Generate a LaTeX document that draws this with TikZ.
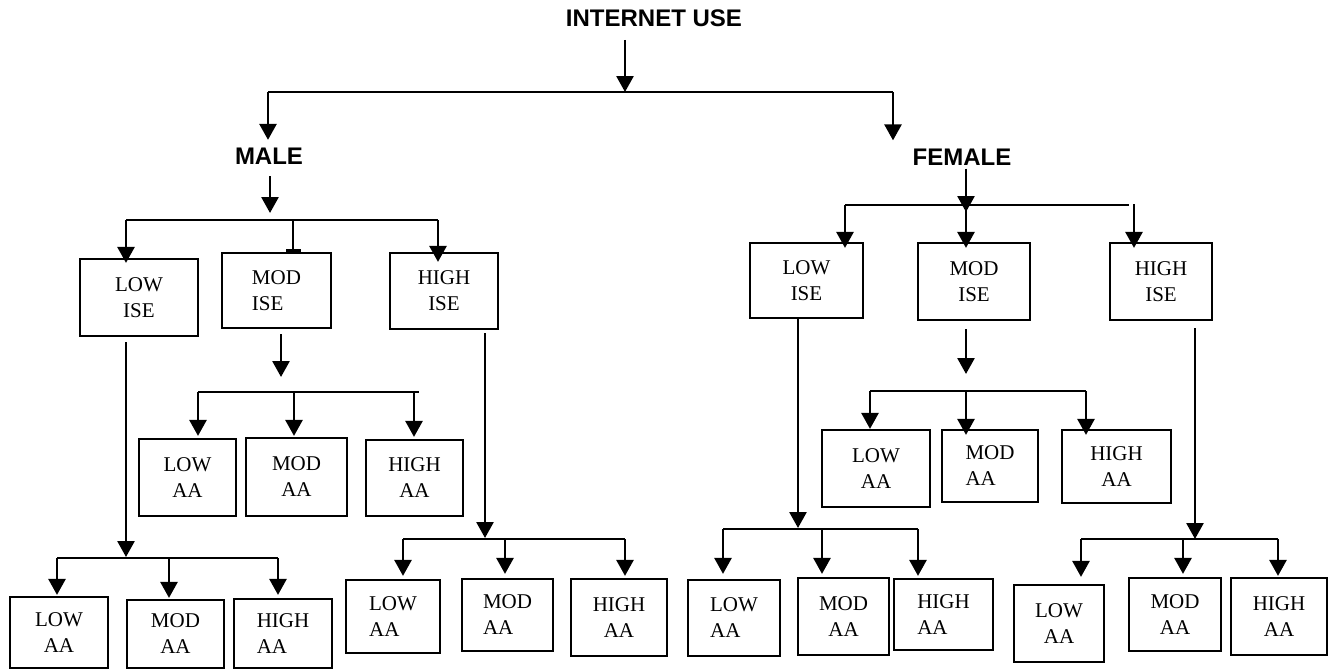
\documentclass[tikz,border=0pt]{standalone}
\usepackage{fontspec}
\setmainfont{Liberation Serif}
\setsansfont{Liberation Sans}
\usetikzlibrary{arrows.meta}
\newcommand\bxfont{\fontsize{10.5}{13}\selectfont}
\newcommand\hdfont{\fontsize{12}{14}\selectfont\sffamily\bfseries}
\begin{document}
\begin{tikzpicture}[x=0.5pt,y=-0.5pt,
  box/.style={draw, line width=1.1pt, inner sep=0pt, font=\bxfont, align=center},
  sz/.style 2 args={minimum width=#1*0.5pt, minimum height=#2*0.5pt},
  hdr/.style={font=\hdfont, inner sep=0pt},
  ln/.style={line width=1.35pt},
  arr/.style={line width=1.35pt, -{Triangle[length=8pt,width=8.5pt]}},
  tee/.style={line width=1.35pt, -{Bar[width=7.5pt,line width=1.35pt]}}]
\useasboundingbox (0,0) rectangle (1330,670);

% headers
\node[hdr] (iu) at (654,18) {INTERNET USE};
\node[hdr] (male) at (269,156.5) {MALE};
\node[hdr] (female) at (962,157) {FEMALE};

% male ISE
\node[box,sz={118}{77}] (mL) at (139,297.5) {LOW\\ISE};
\node[box,sz={109}{75},align=left] (mM) at (276.5,290.5) {MOD\\ISE};
\node[box,sz={108}{76}] (mH) at (444,291) {HIGH\\ISE};
% male MOD ISE -> AA
\node[box,sz={97}{77}] (mmL) at (187.5,477.5) {LOW\\AA};
\node[box,sz={101}{78}] (mmM) at (296.5,477) {MOD\\AA};
\node[box,sz={97}{76}] (mmH) at (414.5,478) {HIGH\\AA};
% male LOW ISE -> AA
\node[box,sz={98}{71}] (mlL) at (59,632.5) {LOW\\AA};
\node[box,sz={97}{68}] (mlM) at (175.5,634) {MOD\\AA};
\node[box,sz={98}{69},align=left] (mlH) at (283,633.5) {HIGH\\AA};
% male HIGH ISE -> AA
\node[box,sz={94}{73},align=left] (mhL) at (393,616.5) {LOW\\AA};
\node[box,sz={91}{72},align=left] (mhM) at (507.5,615) {MOD\\AA};
\node[box,sz={96}{77}] (mhH) at (619,617.5) {HIGH\\AA};

% female ISE
\node[box,sz={113}{75}] (fL) at (806.5,280.5) {LOW\\ISE};
\node[box,sz={112}{77}] (fM) at (974,281.5) {MOD\\ISE};
\node[box,sz={102}{77}] (fH) at (1161,281.5) {HIGH\\ISE};
% female MOD ISE -> AA
\node[box,sz={108}{77}] (fmL) at (876,468.5) {LOW\\AA};
\node[box,sz={96}{72},align=left] (fmM) at (990,466) {MOD\\AA};
\node[box,sz={109}{73}] (fmH) at (1116.5,466.5) {HIGH\\AA};
% female LOW ISE -> AA
\node[box,sz={92}{76},align=left] (flL) at (734,618) {LOW\\AA};
\node[box,sz={91}{77}] (flM) at (843.5,616.5) {MOD\\AA};
\node[box,sz={99}{71},align=left] (flH) at (943.5,614.5) {HIGH\\AA};
% female HIGH ISE -> AA
\node[box,sz={90}{77}] (fhL) at (1059,623.5) {LOW\\AA};
\node[box,sz={92}{73}] (fhM) at (1175,614.5) {MOD\\AA};
\node[box,sz={96}{77}] (fhH) at (1279,616.5) {HIGH\\AA};

% ---- top level
\coordinate (t0) at (625,92);
\coordinate (tL) at (268,92);
\coordinate (tR) at (893,92);
\draw[arr, shorten <=6.5pt] (iu.south -| t0) -- (t0);
\draw[ln] (tL) -- (tR);
\draw[arr, shorten >=4pt] (tL) -- (tL |- male.north);
\draw[arr, shorten >=4pt] (tR) -- (tR |- female.north);

% ---- male
\coordinate (ma) at (270,213);
\coordinate (mb1) at (126,220);
\coordinate (mb2) at (293,220);
\coordinate (mb3) at (438,220);
\draw[arr, shorten <=5.5pt] (male.south -| ma) -- (ma);
\draw[ln] (mb1) -- (mb3);
\draw[arr, shorten >=-2.5pt] (mb1) -- (mb1 |- mL.north);
\draw[tee] (mb2) -- (mb2 |- mM.north);
\draw[arr, shorten >=-5pt] (mb3) -- (mb3 |- mH.north);

% male MOD ISE
\coordinate (mmA) at (281,377);
\coordinate (mmb1) at (198,392);
\coordinate (mmb2) at (294,392);
\coordinate (mmb3) at (414,392);
\coordinate (mmbE) at (419,392);
\draw[arr, shorten <=2.5pt] (mM.south -| mmA) -- (mmA);
\draw[ln] (mmb1) -- (mmbE);
\draw[arr, shorten >=1pt] (mmb1) -- (mmb1 |- mmL.north);
\draw[arr, shorten >=0.5pt] (mmb2) -- (mmb2 |- mmM.north);
\draw[arr, shorten >=1pt] (mmb3) -- (mmb3 |- mmH.north);

% male LOW ISE
\coordinate (mlA) at (126,557);
\coordinate (mlb1) at (57,558);
\coordinate (mlb2) at (169,558);
\coordinate (mlb3) at (278,558);
\draw[arr, shorten <=2.5pt] (mL.south -| mlA) -- (mlA);
\draw[ln] (mlb1) -- (mlb3);
\draw[arr, shorten >=0.5pt] (mlb1) -- (mlb1 |- mlL.north);
\draw[arr, shorten >=0.5pt] (mlb2) -- (mlb2 |- mlM.north);
\draw[arr, shorten >=1.5pt] (mlb3) -- (mlb3 |- mlH.north);

% male HIGH ISE
\coordinate (mhA) at (485,538);
\coordinate (mhb1) at (403,539);
\coordinate (mhb2) at (505,539);
\coordinate (mhb3) at (625,539);
\draw[arr, shorten <=1.5pt] (mH.south -| mhA) -- (mhA);
\draw[ln] (mhb1) -- (mhb3);
\draw[arr, shorten >=1.5pt] (mhb1) -- (mhb1 |- mhL.north);
\draw[arr, shorten >=2pt] (mhb2) -- (mhb2 |- mhM.north);
\draw[arr, shorten >=1pt] (mhb3) -- (mhb3 |- mhH.north);

% ---- female
\coordinate (fa) at (966,212);
\coordinate (fb1) at (845,205);
\coordinate (fb2) at (966,205);
\coordinate (fbE) at (1129,205);
\coordinate (fb3) at (1134,204);
\draw[arr, shorten <=1.5pt] (female.south -| fa) -- (fa);
\draw[ln] (fb1) -- (fbE);
\draw[arr, shorten >=-3pt] (fb1) -- (fb1 |- fL.north);
\draw[arr, shorten >=-3pt] (fb2) -- (fb2 |- fM.north);
\draw[arr, shorten >=-3pt] (fb3) -- (fb3 |- fH.north);

% female MOD ISE
\coordinate (fmA) at (966,374);
\coordinate (fmb1) at (870,391);
\coordinate (fmb2) at (966,391);
\coordinate (fmb3) at (1086,391);
\draw[arr, shorten <=4pt] (fM.south -| fmA) -- (fmA);
\draw[ln] (fmb1) -- (fmb3);
\draw[arr] (fmb1) -- (fmb1 |- fmL.north);
\draw[arr, shorten >=-3pt] (fmb2) -- (fmb2 |- fmM.north);
\draw[arr, shorten >=-3pt] (fmb3) -- (fmb3 |- fmH.north);

% female LOW ISE
\coordinate (flA) at (798,528);
\coordinate (flb1) at (723,529);
\coordinate (flb2) at (822,529);
\coordinate (flb3) at (918,529);
\draw[arr] (fL.south -| flA) -- (flA);
\draw[ln] (flb1) -- (flb3);
\draw[arr, shorten >=2.5pt] (flb1) -- (flb1 |- flL.north);
\draw[arr, shorten >=1.5pt] (flb2) -- (flb2 |- flM.north);
\draw[arr, shorten >=1pt] (flb3) -- (flb3 |- flH.north);

% female HIGH ISE
\coordinate (fhA) at (1195,539);
\coordinate (fhb1) at (1081,539);
\coordinate (fhb2) at (1183,539);
\coordinate (fhb3) at (1278,539);
\draw[arr, shorten <=3.5pt] (fH.south -| fhA) -- (fhA);
\draw[ln] (fhb1) -- (fhb3);
\draw[arr, shorten >=3.5pt] (fhb1) -- (fhb1 |- fhL.north);
\draw[arr, shorten >=1.5pt] (fhb2) -- (fhb2 |- fhM.north);
\draw[arr, shorten >=0.5pt] (fhb3) -- (fhb3 |- fhH.north);
\end{tikzpicture}
\end{document}
